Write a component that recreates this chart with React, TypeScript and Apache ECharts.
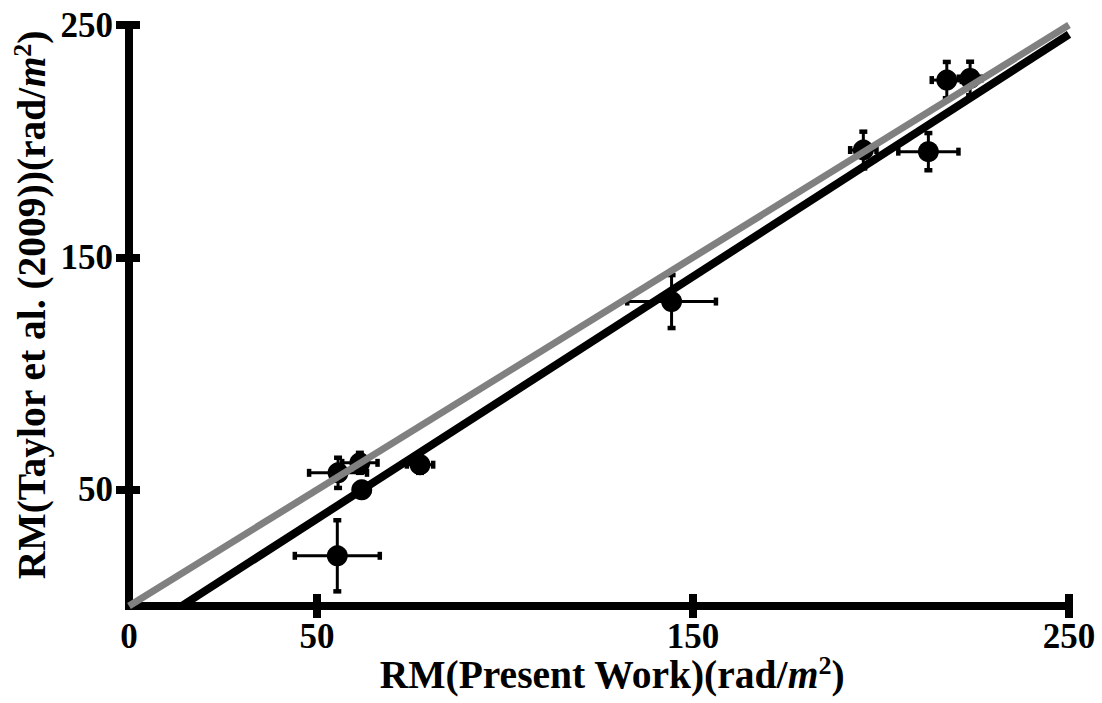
import React, { useEffect, useRef } from "react";
import * as echarts from "echarts";

const xValues = [55.6, 61.4, 61.9, 77.4, 55.4, 144.3, 217.5, 223.7, 195.3, 212.6];
const yValues = [57.3, 61.6, 50.0, 60.8, 21.6, 131.0, 226.3, 227.0, 196.2, 195.5];
const xErrors = [7.7, 4.7, 2.0, 3.5, 11.3, 11.8, 4.0, 3.0, 3.5, 8.0];
const yErrors = [6.5, 4.3, 3.0, 3.5, 15.3, 11.4, 7.8, 7.2, 7.9, 8.0];

const fitLine = [[14, 0], [250, 246]];
const unityLine = [[0, 0], [250, 250]];

const xTickValues = [50, 150, 250];
const xLabelValues = [0, 50, 150, 250];
const yTickValues = [50, 150, 250];
const yLabelValues = [50, 150, 250];

const FONT = "'Liberation Serif', 'Times New Roman', serif";

export default function App() {
  const ref = useRef<HTMLDivElement>(null);
  useEffect(() => {
    if (!ref.current) return;
    const chart = echarts.init(ref.current, undefined, { renderer: "svg" });
    const points = xValues.map((x, i) => [x, yValues[i]]);
    const errData = xValues.map((x, i) => [x, yValues[i], xErrors[i], yErrors[i]]);
    const labelStyle = { fontFamily: FONT, fontWeight: "bold" as const, fontSize: 35, color: "#000" };
    const rich = {
      b: { fontFamily: FONT, fontWeight: "bold", fontSize: 39.5, color: "#000", lineHeight: 46 },
      i: { fontFamily: FONT, fontWeight: "bold", fontStyle: "italic", fontSize: 39.5, color: "#000", lineHeight: 46 },
      s: { fontFamily: FONT, fontWeight: "bold", fontSize: 26, color: "#000", verticalAlign: "top", lineHeight: 46 },
    };
    const option: any = {
      animation: false,
      backgroundColor: "#fff",
      grid: { left: 129, right: 33, top: 25, bottom: 97, containLabel: false },
      xAxis: [
        {
          type: "value", min: 0, max: 250, position: "bottom",
          splitLine: { show: false },
          axisLine: { show: true, onZero: false, lineStyle: { color: "#000", width: 8, cap: "square" } },
          axisTick: { show: true, inside: false, length: 12, customValues: xTickValues, lineStyle: { color: "#000", width: 8 } },
          axisLabel: { show: true, margin: 13, customValues: xLabelValues, ...labelStyle },
        },
        {
          type: "value", min: 0, max: 250, position: "bottom",
          splitLine: { show: false },
          axisLine: { show: false, onZero: false },
          axisTick: { show: true, inside: true, length: 12, customValues: xTickValues, lineStyle: { color: "#000", width: 8 } },
          axisLabel: { show: false },
        },
      ],
      yAxis: [
        {
          type: "value", min: 0, max: 250, position: "left",
          splitLine: { show: false },
          axisLine: { show: true, onZero: false, lineStyle: { color: "#000", width: 8, cap: "square" } },
          axisTick: { show: true, inside: false, length: 13, customValues: yTickValues, lineStyle: { color: "#000", width: 8 } },
          axisLabel: { show: true, margin: 16, customValues: yLabelValues, ...labelStyle },
        },
        {
          type: "value", min: 0, max: 250, position: "left",
          splitLine: { show: false },
          axisLine: { show: false, onZero: false },
          axisTick: { show: true, inside: true, length: 11, customValues: yTickValues, lineStyle: { color: "#000", width: 8 } },
          axisLabel: { show: false },
        },
      ],
      graphic: [
        {
          type: "text", x: 612, y: 675, z: 100,
          style: { text: "{b|RM(Present Work)(rad/}{i|m}{s|2}{b|)}", rich, align: "center", verticalAlign: "middle" },
        },
        {
          type: "text", x: 32, y: 305, rotation: Math.PI / 2, z: 100,
          style: { text: "{b|RM(Taylor et al. (2009))(rad/}{i|m}{s|2}{b|)}", rich, align: "center", verticalAlign: "middle" },
        },
      ],
      series: [
        {
          type: "custom", xAxisIndex: 0, yAxisIndex: 0, z: 2,
          data: errData,
          renderItem: (params: any, api: any) => {
            const x = api.value(0), y = api.value(1), xe = api.value(2), ye = api.value(3);
            const l = api.coord([x - xe, y]);
            const r = api.coord([x + xe, y]);
            const t = api.coord([x, y + ye]);
            const b = api.coord([x, y - ye]);
            const bar = { stroke: "#000", lineWidth: 3 };
            const cap = { stroke: "#000", lineWidth: 4.5 };
            const h = 4;
            return {
              type: "group",
              children: [
                { type: "line", shape: { x1: l[0], y1: l[1], x2: r[0], y2: r[1] }, style: bar },
                { type: "line", shape: { x1: t[0], y1: t[1], x2: b[0], y2: b[1] }, style: bar },
                { type: "line", shape: { x1: l[0], y1: l[1] - h, x2: l[0], y2: l[1] + h }, style: cap },
                { type: "line", shape: { x1: r[0], y1: r[1] - h, x2: r[0], y2: r[1] + h }, style: cap },
                { type: "line", shape: { x1: t[0] - h, y1: t[1], x2: t[0] + h, y2: t[1] }, style: cap },
                { type: "line", shape: { x1: b[0] - h, y1: b[1], x2: b[0] + h, y2: b[1] }, style: cap },
              ],
            };
          },
        },
        {
          type: "scatter", xAxisIndex: 0, yAxisIndex: 0, z: 3,
          data: points, symbol: "circle", symbolSize: 21,
          itemStyle: { color: "#000", opacity: 1 },
        },
        {
          type: "line", xAxisIndex: 0, yAxisIndex: 0, z: 4,
          data: fitLine, showSymbol: false, symbol: "none",
          lineStyle: { color: "#000", width: 8 },
        },
        {
          type: "line", xAxisIndex: 0, yAxisIndex: 0, z: 5,
          data: unityLine, showSymbol: false, symbol: "none",
          lineStyle: { color: "#808080", width: 7 },
        },
      ],
    };
    chart.setOption(option);
    return () => chart.dispose();
  }, []);
  return (
    <div
      ref={ref}
      style={{ position: "fixed", left: 0, top: 0, width: 1102, height: 703, background: "#fff" }}
    />
  );
}
